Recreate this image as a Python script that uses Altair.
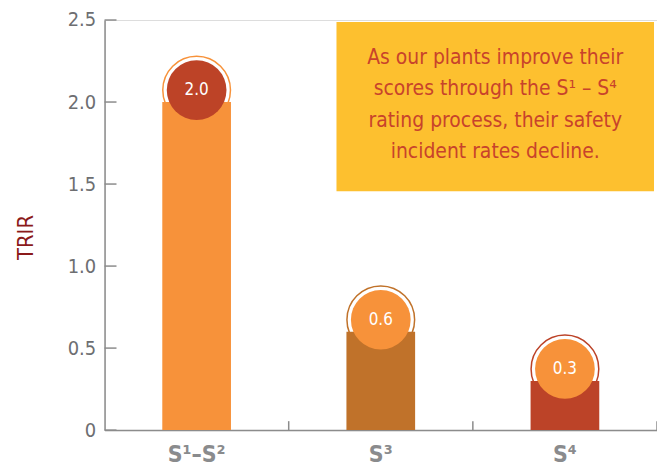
import altair as alt
import pandas as pd

# ---- data ----
categories = ["S¹–S²", "S³", "S⁴"]
trir_values = [2.0, 0.6, 0.3]
y_tick_values = [0, 0.5, 1.0, 1.5, 2.0, 2.5]
note_lines = [
    "As our plants improve their",
    "scores through the S¹ – S⁴",
    "rating process, their safety",
    "incident rates decline.",
]

# ---- styles ----
bar_colors = ["#f7923a", "#c0722a", "#bc4328"]
circle_colors = ["#bd4327", "#f7923a", "#f7923a"]
grey = "#6d6e71"
axis_grey = "#8c8c8c"
font = "DejaVu Sans Condensed, Roboto, sans-serif"

W, H = 555, 412
BAND = W / len(categories)

df = pd.DataFrame({"cat": categories, "value": trir_values})
df["label"] = [f"{v:.1f}" for v in trir_values]
ticks_df = pd.DataFrame({"v": y_tick_values})
cat_df = pd.DataFrame({"cat": categories})

xscale = alt.Scale(domain=categories, paddingInner=0, paddingOuter=0)
yscale = alt.Scale(domain=[0, 2.5], nice=False)

x_enc = alt.X(
    "cat:N",
    scale=xscale,
    sort=categories,
    axis=alt.Axis(
        title=None,
        labelAngle=0,
        labelAlign="center",
        labelBaseline="middle",
        labelFont=font,
        labelFontSize=23,
        labelFontWeight="bold",
        labelColor="#8a8b8d",
        labelPadding=25,
        tickSize=0,
        domainColor=axis_grey,
        domainWidth=1.5,
    ),
)
y_enc = alt.Y(
    "value:Q",
    scale=yscale,
    axis=alt.Axis(
        title="TRIR",
        titleFont=font,
        titleFontSize=22,
        titleFontWeight="normal",
        titleColor="#8b1a1a",
        titlePadding=30,
        titleY=218,
        values=y_tick_values,
        labelExpr="datum.value == 0 ? '0' : format(datum.value, '.1f')",
        labelFont=font,
        labelFontSize=20,
        labelColor=grey,
        labelPadding=9,
        tickSize=0,
        grid=False,
        domainColor=axis_grey,
        domainWidth=1.5,
    ),
)

base = alt.Chart(df)
xc = alt.X("cat:N", scale=xscale, sort=categories)
yc = alt.Y("value:Q", scale=yscale)

ring = base.mark_point(shape="circle", size=4624, filled=False, strokeWidth=1.5, opacity=1, yOffset=-12).encode(
    x=xc,
    y=yc,
    stroke=alt.Stroke("cat:N", scale=alt.Scale(domain=categories, range=bar_colors), legend=None),
)

bars = base.mark_bar(size=69).encode(
    x=x_enc,
    y=y_enc,
    color=alt.Color("cat:N", scale=alt.Scale(domain=categories, range=bar_colors), legend=None),
)

circles = base.mark_point(shape="circle", size=3600, filled=True, opacity=1, strokeWidth=0, yOffset=-12).encode(
    x=xc,
    y=yc,
    fill=alt.Fill("cat:N", scale=alt.Scale(domain=categories, range=circle_colors), legend=None),
)

labels = base.mark_text(color="white", font=font, fontSize=17, baseline="middle", align="center", yOffset=-12).encode(
    x=xc,
    y=yc,
    text="label:N",
)

yticks = alt.Chart(ticks_df).mark_rule(color=axis_grey, strokeWidth=1.5).encode(
    y=alt.Y("v:Q", scale=yscale),
    x=alt.value(0),
    x2=alt.value(12),
)

xticks = alt.Chart(cat_df).mark_rule(color=axis_grey, strokeWidth=1.5, xOffset=BAND / 2).encode(
    x=xc,
    y=alt.value(H),
    y2=alt.value(H - 9),
)

box = alt.Chart(cat_df.head(1)).mark_rect(color="#fdc02f").encode(
    x=alt.value(233), x2=alt.value(552), y=alt.value(2), y2=alt.value(172)
)

note = alt.Chart(cat_df.head(1)).mark_text(
    color="#c8432b", font=font, fontSize=21, lineHeight=31.5, align="center", baseline="middle"
).encode(
    x=alt.value(392.5), y=alt.value(38), text=alt.value(note_lines)
)

chart = (
    alt.layer(ring, bars, circles, labels, yticks, xticks, box, note)
    .resolve_scale(color="independent", fill="independent", stroke="independent")
    .properties(
        width=W,
        height=H,
        autosize=alt.AutoSizeParams(type="none"),
        padding={"left": 97, "top": 11, "right": 0, "bottom": 40},
    )
    .configure_view(stroke=None)
    .configure(background="white")
)

chart.save("out.html", embed_options={"renderer": "svg", "actions": False})
